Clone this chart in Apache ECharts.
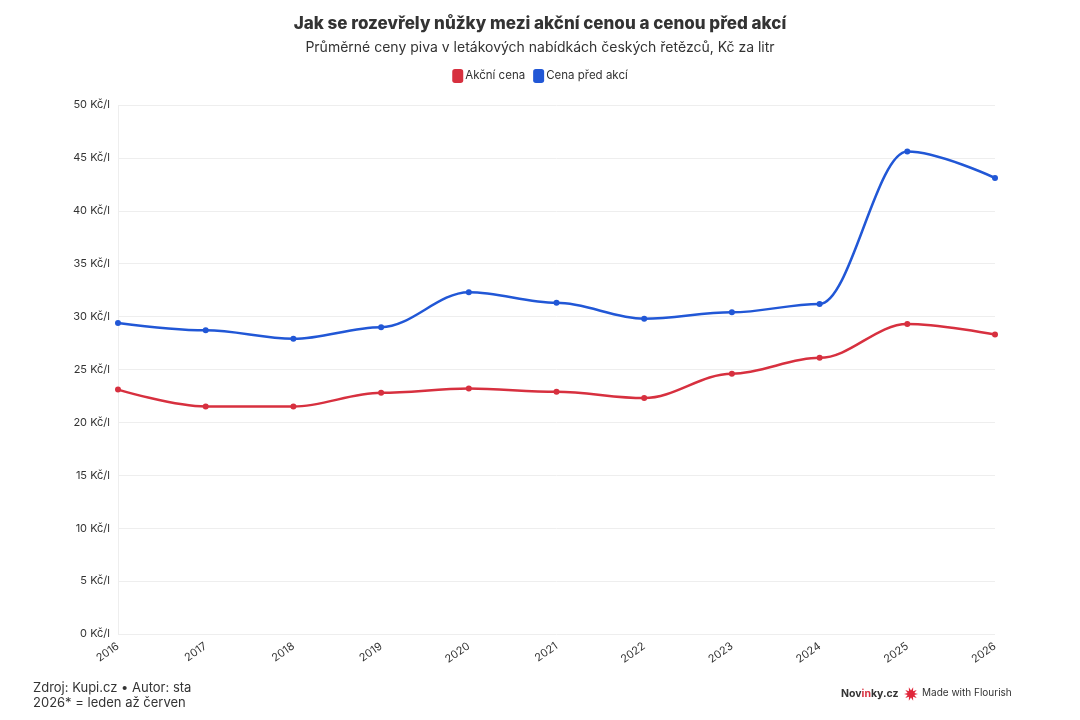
<!DOCTYPE html>
<html>
<head>
<meta charset="utf-8">
<script src="https://cdn.jsdelivr.net/npm/echarts@6/dist/echarts.min.js"></script>
<style>
  html, body { margin: 0; padding: 0; background: #fff; }
  #chartArea { width: 1080px; height: 720px; }
</style>
</head>
<body>
<div id="chartArea"></div>
<script>
let years = ['2016', '2017', '2018', '2019', '2020', '2021', '2022', '2023', '2024', '2025', '2026'];
let akcniCena = [23.1, 21.5, 21.5, 22.8, 23.2, 22.9, 22.3, 24.6, 26.1, 29.3, 28.3];
let cenaPredAkci = [29.4, 28.7, 27.9, 29.0, 32.3, 31.3, 29.8, 30.4, 31.2, 45.6, 43.1];
let seriesNames = ['Akční cena', 'Cena před akcí'];

let redColor = '#d7303f';
let blueColor = '#2157d6';
let fontName = 'Inter, "Noto Sans", sans-serif';

let myChart = echarts.init(document.getElementById('chartArea'));

// starburst points for the Flourish logo
function burst(cx, cy, r1, r2, n) {
    let pts = [];
    for (let i = 0; i < n * 2; i++) {
        let r = i % 2 === 0 ? r1 : r2;
        let a = Math.PI * i / n;
        pts.push([cx + r * Math.cos(a), cy + r * Math.sin(a)]);
    }
    return pts;
}

let option = {
    backgroundColor: '#fff',
    textStyle: { fontFamily: fontName },
    title: {
        text: 'Jak se rozevřely nůžky mezi akční cenou a cenou před akcí',
        subtext: 'Průměrné ceny piva v letákových nabídkách českých řetězců, Kč za litr',
        left: 'center',
        top: 10,
        itemGap: 9,
        textStyle: { fontSize: 17, fontWeight: 800, color: '#333', fontFamily: fontName },
        subtextStyle: { fontSize: 14, color: '#333', fontFamily: fontName }
    },
    legend: {
        data: seriesNames,
        top: 64,
        left: 'center',
        itemWidth: 11,
        itemHeight: 14,
        itemGap: 8,
        icon: 'roundRect',
        textStyle: { fontSize: 11.5, color: '#333', fontFamily: fontName, padding: [0, 0, 0, -3] }
    },
    grid: {
        left: 118,
        right: 85,
        top: 105,
        bottom: 86
    },
    xAxis: {
        type: 'category',
        data: years,
        boundaryGap: false,
        axisLine: { show: false },
        axisTick: { show: false },
        splitLine: { show: true, lineStyle: { color: '#eee' }, interval: function (i) { return i === 0; } },
        axisLabel: { rotate: 35, color: '#333', fontSize: 11, margin: 11, fontFamily: fontName }
    },
    yAxis: {
        type: 'value',
        min: 0,
        max: 50,
        interval: 5,
        axisLine: { show: false },
        axisTick: { show: false },
        splitLine: { lineStyle: { color: '#eee' } },
        axisLabel: {
            formatter: '{value} Kč/l',
            color: '#333',
            fontSize: 11,
            margin: 8,
            fontFamily: fontName
        }
    },
    series: [
        {
            name: seriesNames[0],
            type: 'line',
            data: akcniCena,
            smooth: 0.35,
            smoothMonotone: 'x',
            symbol: 'circle',
            symbolSize: 6,
            color: redColor,
            lineStyle: { width: 2.5, color: redColor },
            itemStyle: { color: redColor }
        },
        {
            name: seriesNames[1],
            type: 'line',
            data: cenaPredAkci,
            smooth: 0.35,
            smoothMonotone: 'x',
            symbol: 'circle',
            symbolSize: 6,
            color: blueColor,
            lineStyle: { width: 2.5, color: blueColor },
            itemStyle: { color: blueColor }
        }
    ],
    graphic: [
        {
            type: 'text',
            left: 33,
            top: 681,
            style: {
                text: 'Zdroj: Kupi.cz • Autor: sta\n2026* = leden až červen',
                font: '13px ' + fontName,
                fill: '#333',
                lineHeight: 15
            }
        },
        {
            type: 'text',
            left: 841,
            top: 688,
            style: {
                text: '{a|Nov}{b|in}{a|ky.cz}',
                rich: {
                    a: { fontSize: 10.5, fontWeight: 'bold', fill: '#333', fontFamily: fontName },
                    b: { fontSize: 10.5, fontWeight: 'bold', fill: '#d7303f', fontFamily: fontName }
                }
            }
        },
        {
            type: 'polygon',
            shape: { points: burst(911, 694, 7, 3.5, 10) },
            style: { fill: '#e0263a' }
        },
        {
            type: 'text',
            left: 922,
            top: 688,
            style: {
                text: 'Made with Flourish',
                font: '10px ' + fontName,
                fill: '#333'
            }
        }
    ]
};

myChart.setOption(option);
</script>
</body>
</html>
